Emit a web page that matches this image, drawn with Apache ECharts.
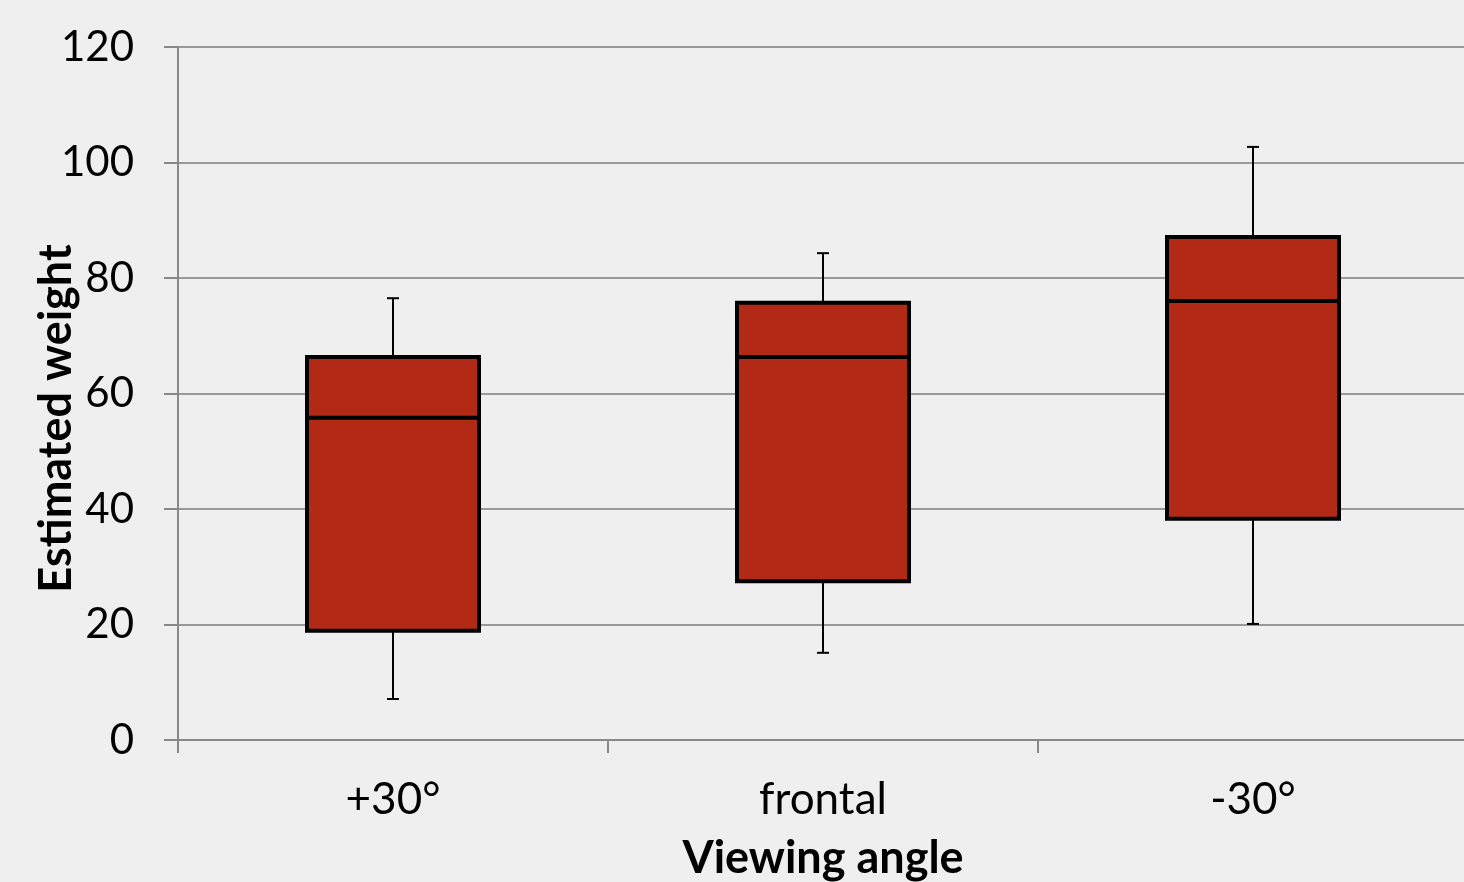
<!DOCTYPE html>
<html><head><meta charset="utf-8">
<script src="https://cdn.jsdelivr.net/npm/echarts@6/dist/echarts.min.js"></script>
<style>html,body{margin:0;padding:0;background:#efefef;}#c{width:1464px;height:882px;}</style>
</head><body><div id="c"></div>
<script>
const categories = ['+30°', 'frontal', '-30°'];
const whiskerLow = [7.1, 15.1, 20.1];
const q1 = [18.9, 27.5, 38.3];
const median = [55.8, 66.3, 76.0];
const q3 = [66.3, 75.7, 87.1];
const whiskerHigh = [76.5, 84.3, 102.7];
const yTicks = [0, 20, 40, 60, 80, 100, 120];

const data = categories.map((c, i) => [i, whiskerLow[i], q1[i], median[i], q3[i], whiskerHigh[i]]);

const chart = echarts.init(document.getElementById('c'));
const font = 'Lato, "Open Sans", sans-serif';
chart.setOption({
  backgroundColor: '#efefef',
  animation: false,
  grid: { left: 178, right: -4, top: 47, bottom: 142, outerBoundsMode: 'none', containLabel: false },
  xAxis: {
    type: 'category', data: categories,
    name: 'Viewing angle', nameLocation: 'middle', nameGap: 96, nameMoveOverlap: false,
    nameTextStyle: { fontFamily: font, fontSize: 45, fontWeight: 'bold', color: '#000' },
    axisLine: { lineStyle: { color: '#888', width: 2 } },
    axisTick: { show: true, length: 13, lineStyle: { color: '#888', width: 2 } },
    axisLabel: { fontFamily: font, fontSize: 44, color: '#000', margin: 38 }
  },
  yAxis: {
    type: 'value', min: 0, max: 120, interval: 20,
    name: 'Estimated weight', nameLocation: 'middle', nameGap: 99, nameMoveOverlap: false,
    nameTextStyle: { fontFamily: font, fontSize: 45, fontWeight: 'bold', color: '#000', padding: [0, 50, 0, 0] },
    axisLine: { show: true, lineStyle: { color: '#888', width: 2 } },
    axisTick: { show: true, length: 14, lineStyle: { color: '#888', width: 2 } },
    axisLabel: { fontFamily: font, fontSize: 42, color: '#000', margin: 44,
      formatter: v => yTicks.includes(v) ? String(v) : '' },
    splitLine: { lineStyle: { color: '#999', width: 2 } }
  },
  series: [{
    type: 'custom',
    data: data,
    encode: { x: 0, y: [1, 2, 3, 4, 5] },
    renderItem: function (params, api) {
      const idx = api.value(0);
      const band = api.size([1, 0])[0];
      const half = band * 0.2;
      const capHalf = 6;
      const pLow = api.coord([idx, api.value(1)]);
      const pQ1 = api.coord([idx, api.value(2)]);
      const pMed = api.coord([idx, api.value(3)]);
      const pQ3 = api.coord([idx, api.value(4)]);
      const pHigh = api.coord([idx, api.value(5)]);
      const x = pQ1[0];
      const lineStyle = { stroke: '#000', lineWidth: 2 };
      return {
        type: 'group',
        children: [
          { type: 'line', shape: { x1: x, y1: pHigh[1], x2: x, y2: pQ3[1] }, style: lineStyle },
          { type: 'line', shape: { x1: x - capHalf, y1: pHigh[1], x2: x + capHalf, y2: pHigh[1] }, style: lineStyle },
          { type: 'line', shape: { x1: x, y1: pLow[1], x2: x, y2: pQ1[1] }, style: lineStyle },
          { type: 'line', shape: { x1: x - capHalf, y1: pLow[1], x2: x + capHalf, y2: pLow[1] }, style: lineStyle },
          { type: 'rect', shape: { x: x - half, y: pQ3[1], width: half * 2, height: pQ1[1] - pQ3[1] },
            style: { fill: '#b22a16', stroke: '#000', lineWidth: 4 } },
          { type: 'line', shape: { x1: x - half, y1: pMed[1], x2: x + half, y2: pMed[1] },
            style: { stroke: '#000', lineWidth: 4 } }
        ]
      };
    }
  }]
});
</script></body></html>
